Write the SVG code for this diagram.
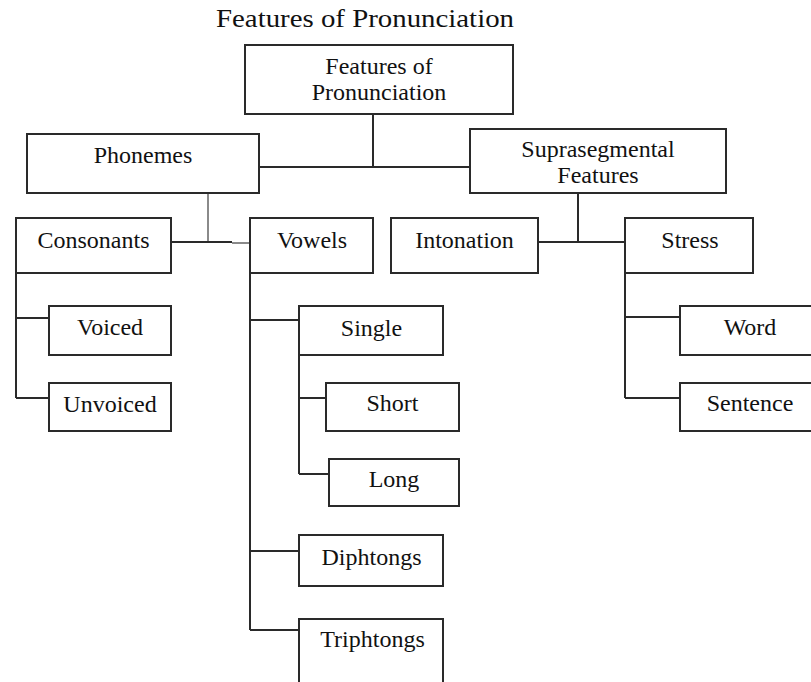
<svg xmlns="http://www.w3.org/2000/svg" width="811" height="682" viewBox="0 0 811 682">
  <style>
    .box { fill: #ffffff; stroke: #2a2a2a; stroke-width: 2; }
    .lbl { font-family: "Liberation Serif", "Times New Roman", serif; font-size: 24px; fill: #111; text-anchor: middle; }
    .ttl { font-family: "Liberation Serif", "Times New Roman", serif; font-size: 25px; fill: #111; }
    .ln { fill: none; stroke: #2a2a2a; stroke-width: 2; }
    .gr { fill: none; stroke: #8a8a8a; stroke-width: 2; }
  </style>
  <rect width="811" height="682" fill="#ffffff"/>
  <text class="ttl" x="216" y="27" textLength="298" lengthAdjust="spacingAndGlyphs">Features of Pronunciation</text>

  <g id="connectors">
    <path class="ln" d="M373 114 V167 M259 167 H470"/>
    <path class="gr" d="M208 193 V242"/>
    <path class="ln" d="M171 242 H232"/>
    <path class="gr" d="M232 243 H250"/>
    <path class="ln" d="M578 193 V242 M538 242 H625"/>
    <path class="ln" d="M16 273 V398 M16 318 H49 M16 398 H49"/>
    <path class="ln" d="M250 273 V630 M250 320 H299 M250 551 H299 M250 630 H299"/>
    <path class="ln" d="M299 355 V474 M299 398 H326 M299 474 H329"/>
    <path class="ln" d="M625 273 V398 M625 317 H680 M625 398 H680"/>
  </g>

  <g id="root">
    <rect class="box" x="245" y="45" width="268" height="69"/>
    <text class="lbl" x="379" y="74">Features of</text>
    <text class="lbl" x="379" y="100">Pronunciation</text>
  </g>
  <g id="phonemes">
    <rect class="box" x="27" y="134" width="232" height="59"/>
    <text class="lbl" x="143" y="163">Phonemes</text>
  </g>
  <g id="suprasegmental">
    <rect class="box" x="470" y="129" width="256" height="64"/>
    <text class="lbl" x="598" y="157">Suprasegmental</text>
    <text class="lbl" x="598" y="183">Features</text>
  </g>
  <g id="consonants">
    <rect class="box" x="16" y="218" width="155" height="55"/>
    <text class="lbl" x="93.5" y="248">Consonants</text>
  </g>
  <g id="vowels">
    <rect class="box" x="250" y="218" width="123" height="55"/>
    <text class="lbl" x="312" y="248">Vowels</text>
  </g>
  <g id="intonation">
    <rect class="box" x="391" y="218" width="147" height="55"/>
    <text class="lbl" x="464.5" y="248">Intonation</text>
  </g>
  <g id="stress">
    <rect class="box" x="625" y="218" width="128" height="55"/>
    <text class="lbl" x="690" y="248">Stress</text>
  </g>
  <g id="voiced">
    <rect class="box" x="49" y="306" width="122" height="49"/>
    <text class="lbl" x="110" y="335">Voiced</text>
  </g>
  <g id="unvoiced">
    <rect class="box" x="49" y="383" width="122" height="48"/>
    <text class="lbl" x="110" y="412">Unvoiced</text>
  </g>
  <g id="single">
    <rect class="box" x="299" y="306" width="144" height="49"/>
    <text class="lbl" x="371.5" y="336">Single</text>
  </g>
  <g id="short">
    <rect class="box" x="326" y="383" width="133" height="48"/>
    <text class="lbl" x="392.5" y="411">Short</text>
  </g>
  <g id="long">
    <rect class="box" x="329" y="459" width="130" height="47"/>
    <text class="lbl" x="394" y="487">Long</text>
  </g>
  <g id="diphtongs">
    <rect class="box" x="299" y="535" width="144" height="51"/>
    <text class="lbl" x="371.5" y="565">Diphtongs</text>
  </g>
  <g id="triphtongs">
    <rect class="box" x="299" y="619" width="144" height="90"/>
    <text class="lbl" x="372.5" y="647">Triphtongs</text>
  </g>
  <g id="word">
    <rect class="box" x="680" y="306" width="140" height="49"/>
    <text class="lbl" x="750" y="335">Word</text>
  </g>
  <g id="sentence">
    <rect class="box" x="680" y="383" width="140" height="48"/>
    <text class="lbl" x="750" y="411">Sentence</text>
  </g>
</svg>
